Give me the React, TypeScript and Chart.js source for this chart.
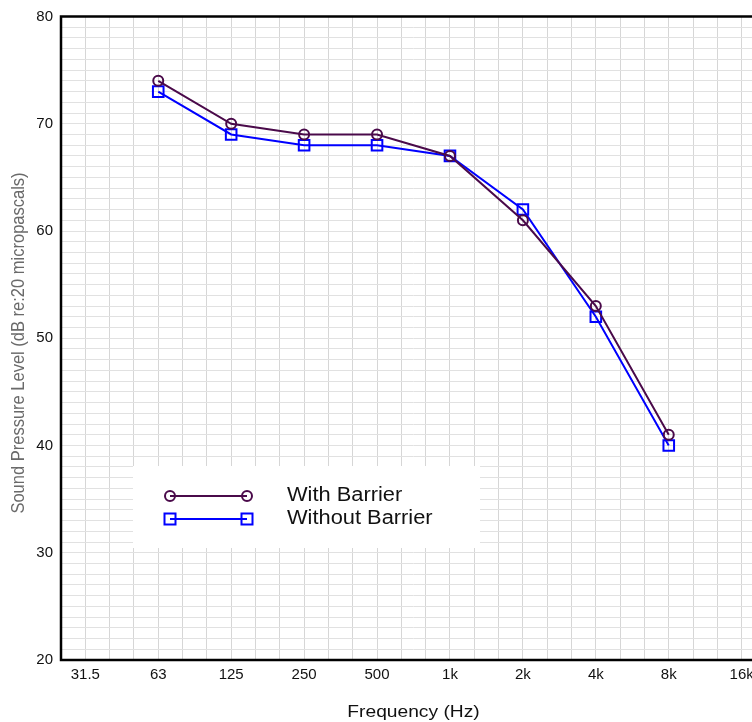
import React, { useEffect, useRef } from "react";
import { Chart, registerables } from "chart.js";

Chart.register(...registerables);

const bandLabels = ["31.5", "63", "125", "250", "500", "1k", "2k", "4k", "8k", "16k"];
const pointBands = [1, 2, 3, 4, 5, 6, 7, 8];
const withBarrier = [74, 70, 69, 69, 67, 61, 53, 41];
const withoutBarrier = [73, 69, 68, 68, 67, 62, 52, 40];
const yMajorTicks = [20, 30, 40, 50, 60, 70, 80];
const seriesNames = ["With Barrier", "Without Barrier"];

const PURPLE = "#4a0a4a";
const BLUE = "#0000ff";
const FONT = "'Liberation Sans', Arial, Helvetica, sans-serif";

const CANVAS_W = 780;
const CANVAS_H = 722;

function stretchedText(ctx: any, text: string, x: number, y: number, sx: number, align: string) {
  ctx.save();
  ctx.translate(x, y);
  ctx.scale(sx, 1);
  ctx.textAlign = align;
  ctx.textBaseline = "middle";
  ctx.fillText(text, 0, 0);
  ctx.restore();
}

export default function App() {
  const ref = useRef<HTMLCanvasElement | null>(null);

  useEffect(() => {
    const canvas = ref.current;
    if (!canvas) return;

    const overlay = {
      id: "overlay",
      afterDraw(chart: any) {
        const { ctx, chartArea } = chart;
        ctx.save();
        // frame
        ctx.strokeStyle = "#000";
        ctx.lineWidth = 2.5;
        ctx.strokeRect(chartArea.left, chartArea.top, chartArea.right - chartArea.left, chartArea.bottom - chartArea.top);

        // y title
        ctx.save();
        ctx.translate(19, 343);
        ctx.rotate(-Math.PI / 2);
        ctx.scale(1, 1.1);
        ctx.font = `16.5px ${FONT}`;
        ctx.fillStyle = "#6a6a6a";
        ctx.textAlign = "center";
        ctx.textBaseline = "middle";
        ctx.fillText("Sound Pressure Level (dB re:20 micropascals)", 0, 0);
        ctx.restore();

        // x title
        ctx.font = `17px ${FONT}`;
        ctx.fillStyle = "#111";
        stretchedText(ctx, "Frequency (Hz)", (chartArea.left + chartArea.right) / 2, 712, 1.13, "center");

        // legend
        ctx.fillStyle = "#fff";
        ctx.fillRect(133, 466, 347, 82);
        const items = [
          { y: 496, color: PURPLE, style: "circle" },
          { y: 519, color: BLUE, style: "rect" },
        ];
        items.forEach((it, i) => {
          ctx.strokeStyle = it.color;
          ctx.lineWidth = 2;
          ctx.beginPath();
          ctx.moveTo(170, it.y);
          ctx.lineTo(247, it.y);
          ctx.stroke();
          [170, 247].forEach((x) => {
            ctx.beginPath();
            if (it.style === "circle") {
              ctx.arc(x, it.y, 5, 0, Math.PI * 2);
            } else {
              ctx.rect(x - 5.5, it.y - 5.5, 11, 11);
            }
            ctx.stroke();
          });
          ctx.font = `19.5px ${FONT}`;
          ctx.fillStyle = "#111";
          stretchedText(ctx, seriesNames[i], 287, it.y, 1.12, "left");
        });
        ctx.restore();
      },
    };

    const chart = new Chart(canvas, {
      type: "line",
      data: {
        datasets: [
          {
            label: seriesNames[0],
            data: pointBands.map((b, i) => ({ x: b, y: withBarrier[i] })),
            borderColor: PURPLE,
            backgroundColor: "transparent",
            borderWidth: 2,
            pointStyle: "circle",
            pointRadius: 5,
            pointBorderWidth: 2,
            pointBackgroundColor: "transparent",
            pointBorderColor: PURPLE,
          },
          {
            label: seriesNames[1],
            data: pointBands.map((b, i) => ({ x: b, y: withoutBarrier[i] })),
            borderColor: BLUE,
            backgroundColor: "transparent",
            borderWidth: 2,
            pointStyle: "rect",
            pointRadius: 7.5,
            pointBorderWidth: 2,
            pointBackgroundColor: "transparent",
            pointBorderColor: BLUE,
          },
        ],
      },
      options: {
        responsive: false,
        animation: false,
        devicePixelRatio: 1,
        layout: { padding: { left: 0, top: 16.5, right: 14, bottom: 0 } },
        plugins: {
          legend: { display: false },
          tooltip: { enabled: false },
          title: { display: false },
        },
        scales: {
          x: {
            type: "linear",
            min: -1 / 3,
            max: 9 + 1 / 3,
            afterBuildTicks(scale: any) {
              const t = [];
              for (let k = -1; k <= 28; k++) t.push({ value: k / 3 });
              scale.ticks = t;
            },
            afterFit(scale: any) {
              scale.height = 62;
              scale.paddingLeft = 0;
              scale.paddingRight = 0;
            },
            grid: { color: "#d6d6d6", lineWidth: 1, drawTicks: false },
            border: { display: false },
            ticks: {
              autoSkip: false,
              maxRotation: 0,
              padding: 6,
              color: "#111",
              font: { family: FONT, size: 15 },
              callback(v: any) {
                const n = Math.round(v);
                if (Math.abs(v - n) < 1e-6 && n >= 0 && n < bandLabels.length) return bandLabels[n];
                return "";
              },
            },
          },
          y: {
            type: "linear",
            min: 20,
            max: 80,
            afterBuildTicks(scale: any) {
              const t = [];
              for (let v = yMajorTicks[0]; v <= yMajorTicks[yMajorTicks.length - 1]; v++) t.push({ value: v });
              scale.ticks = t;
            },
            afterFit(scale: any) {
              scale.width = 61;
              scale.paddingTop = 0;
              scale.paddingBottom = 0;
            },
            grid: { color: "#e1e1e1", lineWidth: 1, drawTicks: false },
            border: { display: false },
            ticks: {
              autoSkip: false,
              padding: 8,
              color: "#111",
              font: { family: FONT, size: 15 },
              callback(v: any) {
                return yMajorTicks.includes(v) ? String(v) : "";
              },
            },
          },
        },
      },
      plugins: [overlay],
    });

    return () => chart.destroy();
  }, []);

  return (
    <div style={{ position: "fixed", left: 0, top: 0, width: 752, height: 722, overflow: "hidden", background: "#fff" }}>
      <canvas ref={ref} width={CANVAS_W} height={CANVAS_H} style={{ display: "block", width: CANVAS_W, height: CANVAS_H }} />
    </div>
  );
}
